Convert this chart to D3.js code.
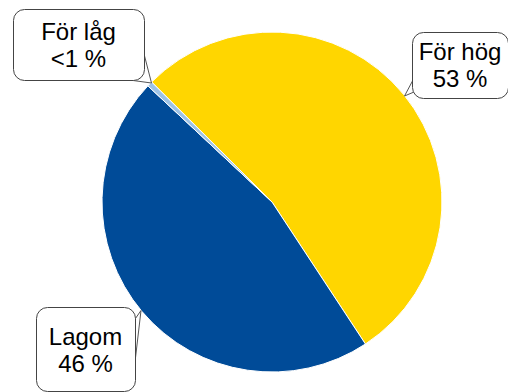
<!DOCTYPE html>
<html>
<head>
<meta charset="utf-8">
<script src="https://cdn.jsdelivr.net/npm/d3@7"></script>
<style>
  html, body { margin: 0; padding: 0; background: #fff; }
  svg { display: block; }
  text { font-family: "Liberation Sans", Arial, sans-serif; }
</style>
</head>
<body>
<script>
// Share of answers per category
const categories = ["För hög", "Lagom", "För låg"];
const values = [53, 46, 0.5];
const sliceColors = ["#FFD600", "#004B98", "#9DC3E6"];

const width = 508, height = 392;
const cx = 272, cy = 202, radius = 170;

const svg = d3.select("body").append("svg")
  .attr("width", width).attr("height", height);

const startDeg = -45.1;
const pie = d3.pie().sort(null).value(d => d)
  .startAngle(startDeg * Math.PI / 180)
  .endAngle(startDeg * Math.PI / 180 + 2 * Math.PI);
const arc = d3.arc().innerRadius(0).outerRadius(radius);

const color = d3.scaleOrdinal().domain(categories).range(sliceColors);

svg.append("g").attr("transform", `translate(${cx},${cy})`)
  .selectAll("path")
  .data(pie(values))
  .join("path")
  .attr("d", arc)
  .attr("fill", (d, i) => color(categories[i]))
  .attr("stroke", "#fff")
  .attr("stroke-width", 1);

// Callout boxes: box rect, pointer wedge (base point, tip, base point), text shift
const callouts = [
  { box: [412, 32, 96, 66], wedge: [[413, 80], [404.5, 96], [414, 92]], dy: -1.5 },
  { box: [36, 307, 99, 84], wedge: [[133, 322], [141, 310.5], [135, 362]], dy: 0 },
  { box: [13, 9, 131, 71], wedge: [[143, 50], [151.5, 83], [122, 79]], dy: -0.5 }
];

const fmt = v => v < 1 ? "<1 %" : d3.format("d")(v) + " %";

const g = svg.append("g");
callouts.forEach((c, i) => {
  const [x, y, w, h] = c.box;
  g.append("path")
    .attr("d", d3.line()(c.wedge) + "Z")
    .attr("fill", "#fff")
    .attr("stroke", "#555")
    .attr("stroke-width", 1);
  g.append("rect")
    .attr("x", x + 0.5).attr("y", y + 0.5)
    .attr("width", w).attr("height", h)
    .attr("rx", 11).attr("ry", 11)
    .attr("fill", "#fff")
    .attr("stroke", "#444")
    .attr("stroke-width", 1);
  const t = g.append("text")
    .attr("text-anchor", "middle")
    .attr("font-size", 24)
    .attr("fill", "#000");
  const mx = x + w / 2;
  const my = y + h / 2 + c.dy;
  t.append("tspan").attr("x", mx).attr("y", my - 4).text(categories[i]);
  t.append("tspan").attr("x", mx).attr("y", my + 23).text(fmt(values[i]));
});
</script>
</body>
</html>
